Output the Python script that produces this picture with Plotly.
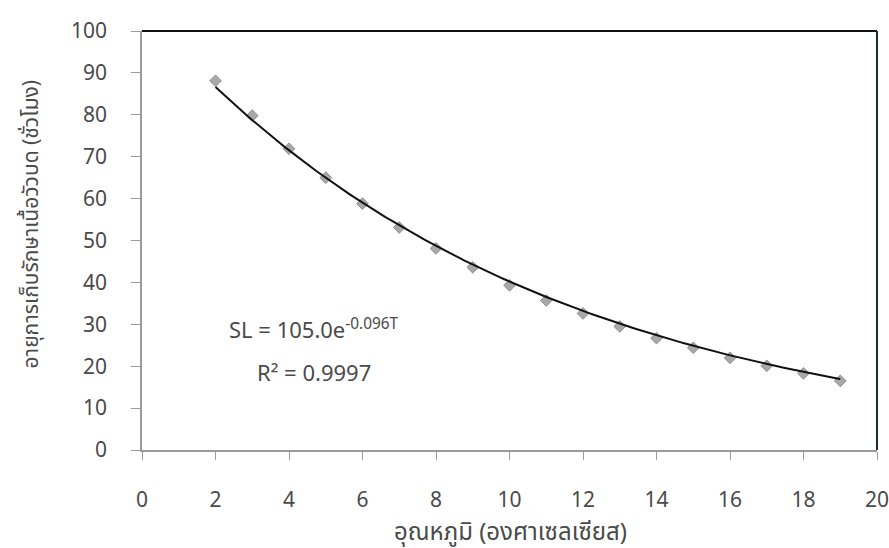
import numpy as np
import plotly.graph_objects as go

# Data
temperature = [2, 3, 4, 5, 6, 7, 8, 9, 10, 11, 12, 13, 14, 15, 16, 17, 18, 19]
shelf_life = [88.1, 79.8, 71.9, 65.0, 58.8, 53.1, 48.1, 43.6, 39.3, 35.7,
              32.6, 29.5, 26.7, 24.4, 22.0, 20.1, 18.3, 16.5]

# Trendline coefficients printed on the chart: SL = 105.0 e^(-0.096 T)
fit_a = 105.0
fit_k = -0.096

x_ticks = [0, 2, 4, 6, 8, 10, 12, 14, 16, 18, 20]
y_ticks = [0, 10, 20, 30, 40, 50, 60, 70, 80, 90, 100]

x_title = "อุณหภูมิ (องศาเซลเซียส)"
y_title = "อายุการเก็บรักษาเนื้อวัวบด (ชั่วโมง)"
eq_text = "SL = 105.0e<sup>-0.096T</sup>"
r2_text = "R² = 0.9997"

FONT = "Noto Sans, Noto Sans Thai, sans-serif"
TXT = "#4a4a4a"

t_fit = np.linspace(min(temperature), max(temperature), 200)
sl_fit = fit_a * np.exp(fit_k * t_fit)

fig = go.Figure()
fig.add_trace(go.Scatter(
    x=temperature, y=shelf_life, mode="markers",
    marker=dict(symbol="diamond", size=9, color="#a8a8a8",
                line=dict(color="#909090", width=1)),
    showlegend=False, hoverinfo="x+y"))
fig.add_trace(go.Scatter(
    x=t_fit, y=sl_fit, mode="lines",
    line=dict(color="#111111", width=2),
    showlegend=False, hoverinfo="skip"))

fig.update_layout(
    width=889, height=548,
    margin=dict(l=142, r=12, t=31, b=98, autoexpand=False),
    paper_bgcolor="white", plot_bgcolor="white",
    font=dict(family=FONT, color=TXT, size=21),
    xaxis=dict(range=[0, 20], tickvals=x_ticks, ticktext=[str(v) for v in x_ticks],
               showgrid=False, zeroline=False, automargin=False,
               showline=True, linecolor="#9a9a9a", linewidth=1.5,
               ticks="outside", ticklen=8, tickcolor="#9a9a9a", tickwidth=1,
               ticklabelstandoff=22, ticklabeloverflow="allow",
               tickfont=dict(family=FONT, size=21, color=TXT)),
    yaxis=dict(range=[0, 100], tickvals=y_ticks, ticktext=[str(v) for v in y_ticks],
               showgrid=False, zeroline=False, automargin=False,
               showline=True, linecolor="#9a9a9a", linewidth=1.5,
               ticks="outside", ticklen=9, tickcolor="#9a9a9a", tickwidth=1,
               ticklabelstandoff=20, ticklabeloverflow="allow",
               tickfont=dict(family=FONT, size=21, color=TXT)),
    shapes=[
        dict(type="line", xref="paper", yref="paper", x0=0, x1=1, y0=1, y1=1,
             line=dict(color="#111111", width=2)),
        dict(type="line", xref="paper", yref="paper", x0=1, x1=1, y0=0, y1=1,
             line=dict(color="#1e2e28", width=2)),
    ],
    annotations=[
        dict(text=eq_text, x=2.31, y=29.1, xref="x", yref="y",
             xanchor="left", yanchor="middle", showarrow=False,
             font=dict(family=FONT, size=22, color=TXT)),
        dict(text=r2_text, x=3.07, y=18.6, xref="x", yref="y",
             xanchor="left", yanchor="middle", showarrow=False,
             font=dict(family=FONT, size=22, color=TXT)),
        dict(text=x_title, x=0.5007, y=-0.193, xref="paper", yref="paper",
             xanchor="center", yanchor="middle", showarrow=False,
             font=dict(family=FONT, size=24, color=TXT)),
        dict(text=y_title, x=-0.152, y=0.539, xref="paper", yref="paper",
             xanchor="center", yanchor="middle", showarrow=False, textangle=-90,
             font=dict(family=FONT, size=21, color=TXT)),
    ],
)

fig.write_html("out.html")
